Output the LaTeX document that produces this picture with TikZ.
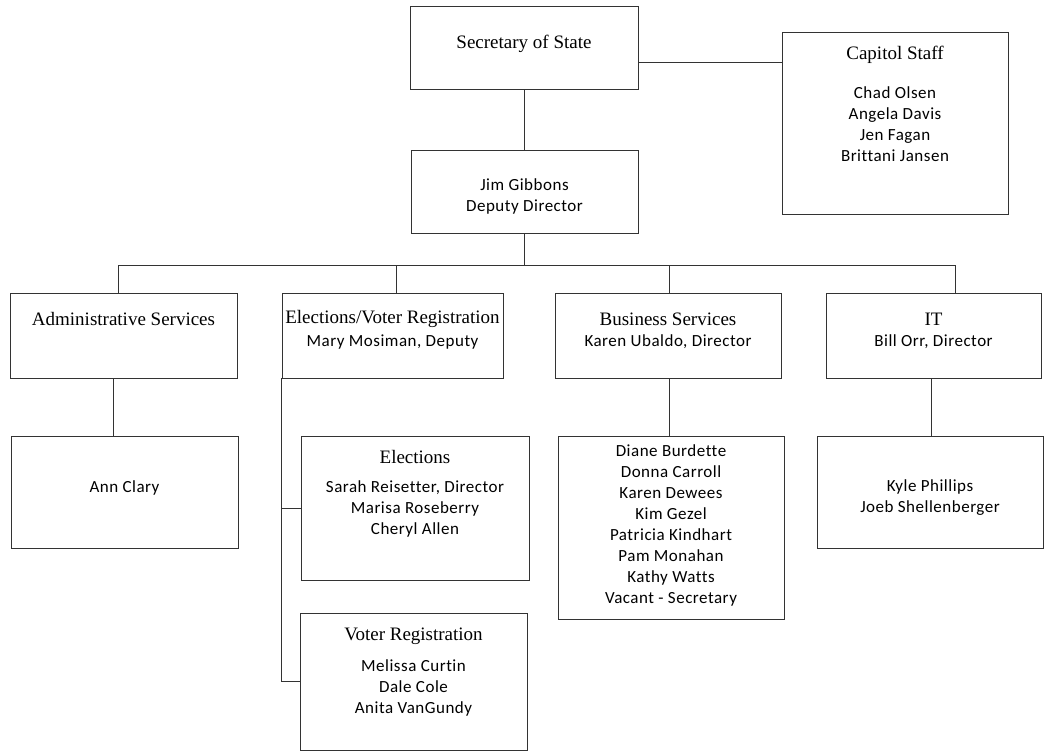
\documentclass[tikz,border=0pt]{standalone}
\usepackage{fontspec}
\usepackage{tikz}
\usetikzlibrary{calc}
\newfontfamily\titlefont{Liberation Serif}
\newfontfamily\namefont[LetterSpace=3,Ligatures=CommonOff]{Carlito}

\begin{document}
\begin{tikzpicture}[x=1pt,y=-1pt,
	orgbox/.style={draw=black!80,line width=0.8pt,inner sep=0pt},
	title/.style={font=\titlefont\fontsize{19}{22}\selectfont},
	names/.style={align=center,font=\namefont\fontsize{17}{21}\selectfont},
	wire/.style={draw=black!80,line width=0.8pt}]
			\useasboundingbox (0,0) rectangle (1044,754);
			% boxes: name/x/y/width/height
			\foreach \n/\x/\y/\w/\h in {sos/524/47.5/228/83,capitol/895/123/226/182,jim/524.5/191.5/227/83,
				admin/123.5/335.5/227/85,evr/392.5/335.5/221/85,bus/668/335.5/226/85,it/933.5/335.5/215/85,
				ann/124.5/492/227/112,elec/415/508/228/144,voter/413.5/681.5/227/137,
				staff/671/527.5/226/183,itstaff/930/492/226/112}
			\node[orgbox,minimum width=\w pt,minimum height=\h pt] (\n) at (\x,\y) {};
			
			\node[title] (sos-t) at (524,44) {Secretary of State};
			\node[title] (capitol-t) at (895,55) {Capitol Staff};
			\node[names] (capitol-n) at (895,124) {Chad Olsen\\Angela Davis\\Jen Fagan\\Brittani Jansen};
			\node[names] (jim-n) at (524.5,196) {Jim Gibbons\\Deputy Director};
			
			\node[title] (admin-t) at (123.5,319) {Administrative Services};
			\node[title] (evr-t) at (392.5,319) {Elections/Voter Registration};
			\node[names] (evr-n) at (392.5,342) {Mary Mosiman, Deputy};
			\node[title] (bus-t) at (668,319) {Business Services};
			\node[names] (bus-n) at (668,342) {Karen Ubaldo, Director};
			\node[title] (it-t) at (933.5,319) {IT};
			\node[names] (it-n) at (933.5,342) {Bill Orr, Director};
			
			\node[names] (ann-n) at (124.5,488) {Ann Clary};
			\node[title] (elec-t) at (415,457) {Elections};
			\node[names] (elec-n) at (415,509) {Sarah Reisetter, Director\\Marisa Roseberry\\Cheryl Allen};
			\node[title] (voter-t) at (413.5,636) {Voter Registration};
			\node[names] (voter-n) at (413.5,688) {Melissa Curtin\\Dale Cole\\Anita VanGundy};
			\node[names] (staff-n) at (671,525.5) {Diane Burdette\\Donna Carroll\\Karen Dewees\\Kim Gezel\\Patricia Kindhart\\Pam Monahan\\Kathy Watts\\Vacant - Secretary};
			\node[names] (itstaff-n) at (930,498) {Kyle Phillips\\Joeb Shellenberger};
			
			% connectors
			\draw[wire] (sos.south) -- (sos.south |- jim.north);
			\draw[wire] (sos.east |- 0,62) -- (capitol.west |- 0,62);
			\coordinate (busL) at (118,265);
			\coordinate (busR) at (955,265);
			\draw[wire] (busL) -- (busR);
			\draw[wire] (jim.south) -- (jim.south |- busL);
			\foreach \n/\x in {admin/118,evr/396,bus/669,it/955}
			\draw[wire] (\x,265) -- (\n.north -| \x,0);
			
			\draw[wire] (admin.south -| 113,0) -- (ann.north -| 113,0);
			\draw[wire] (bus.south -| 669,0) -- (staff.north -| 669,0);
			\draw[wire] (it.south -| 931,0) -- (itstaff.north -| 931,0);
			\draw[wire] (evr.south -| 281,0) |- (voter.west);
			\draw[wire] (elec.west) -- (elec.west -| 281,0);
\end{tikzpicture}
\end{document}
